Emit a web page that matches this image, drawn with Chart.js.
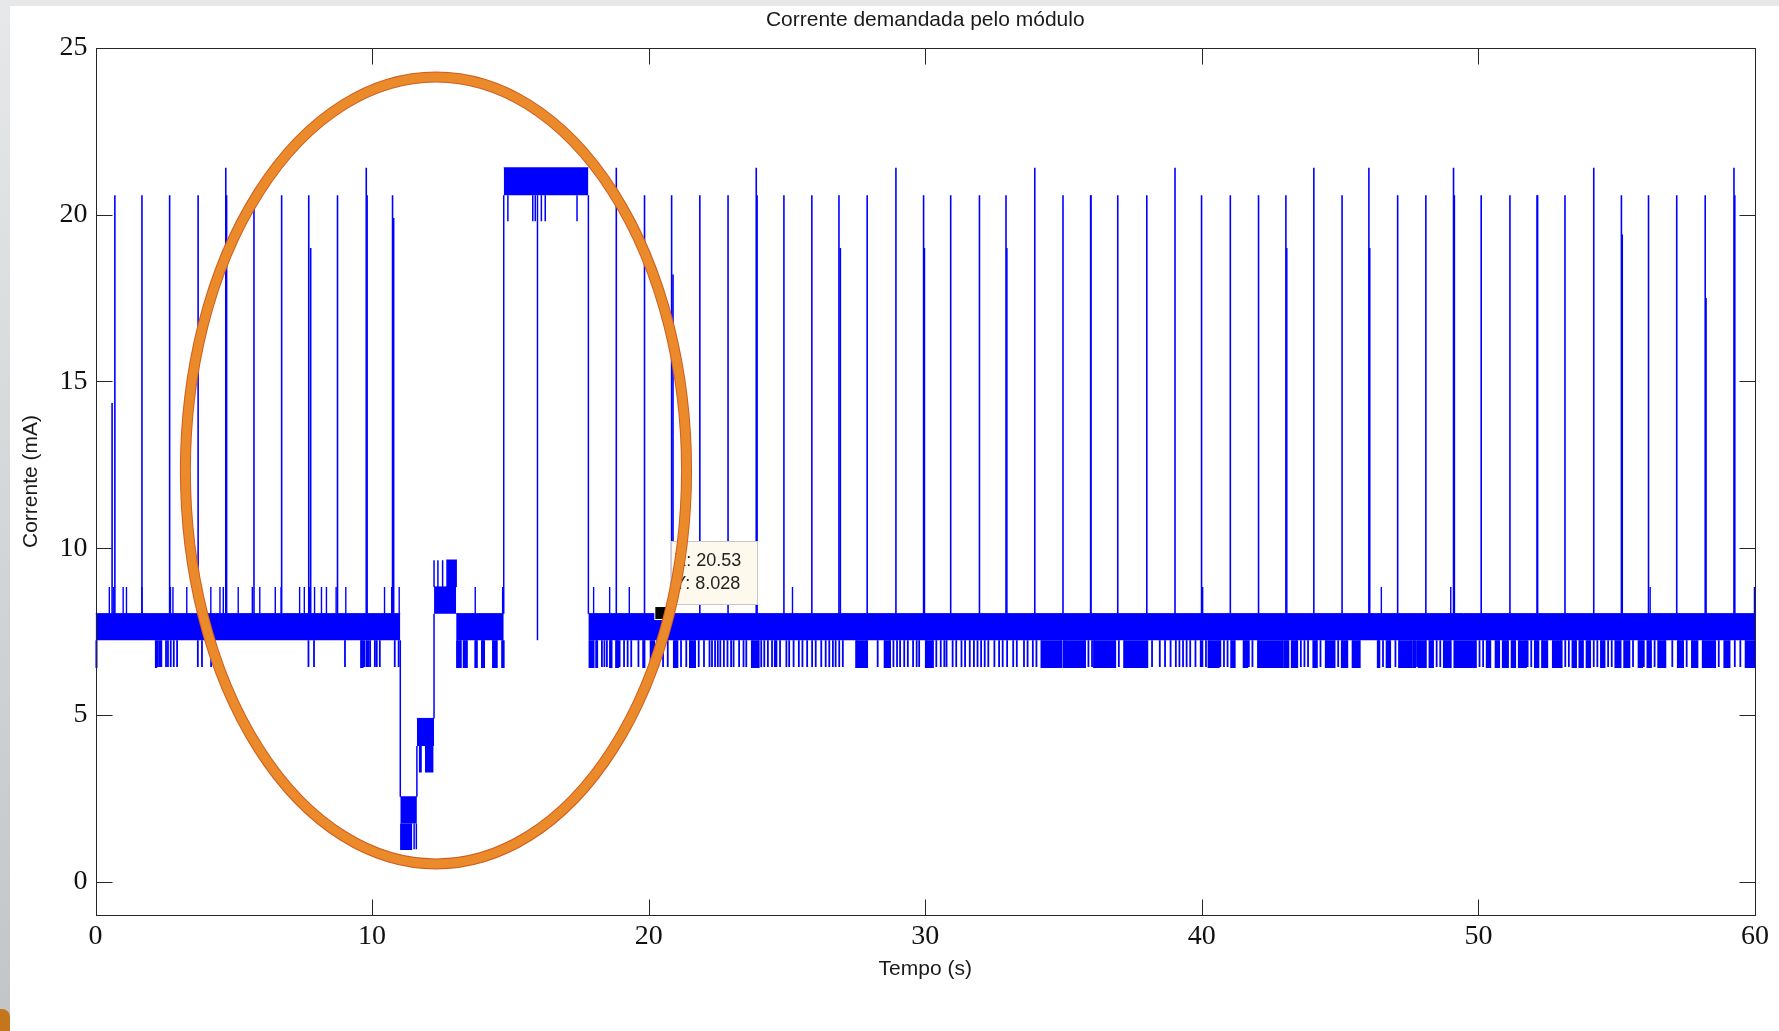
<!DOCTYPE html>
<html lang="pt">
<head>
    <meta charset="UTF-8">
    <title>Corrente demandada pelo módulo</title>
    <script src="https://cdn.jsdelivr.net/npm/chart.js"></script>
    <style>
        body {
            margin: 0;
            width: 1779px;
            height: 1031px;
            overflow: hidden;
            background: linear-gradient(to bottom, #e6e8e9, #c1c5c7); /* borda do slide */
        }
        .sheet {
            position: absolute;
            left: 10px;
            top: 6px;
            right: 0;
            bottom: 0;
            background: #ffffff;
        }
        .corner {
            position: absolute;
            left: 0;
            bottom: 0;
            width: 10px;
            height: 22px;
            background: #c4761d;
            border-top-right-radius: 8px;
        }
        #chart {
            position: absolute;
            left: 0;
            top: 0;
        }
    </style>
</head>
<body>
    <div class="sheet"></div>
    <div class="corner"></div>
    <canvas id="chart" width="1779" height="1031"></canvas>

    <script>
        const xTicks = [0, 10, 20, 30, 40, 50, 60];
        const yTicks = [0, 5, 10, 15, 20, 25];

        // faixa densa do sinal: [inicio s, fim s, minimo mA, maximo mA]
        const bandSegments = [
            [0, 11.02, 7.24, 8.04],
            [11.02, 11.62, 1.75, 2.55],
            [11.62, 12.24, 4.07, 4.9],
            [12.24, 13.04, 8.04, 8.84],
            [13.04, 14.76, 7.24, 8.04],
            [14.76, 17.82, 20.58, 21.4],
            [17.82, 60, 7.24, 8.04]
        ];

        // transicoes verticais: [t, de, ate]
        const transitions = [
            [11.02, 2.55, 7.24],
            [11.62, 2.55, 4.07],
            [12.24, 4.9, 8.04],
            [14.76, 8.04, 20.58],
            [15.98, 7.24, 20.58],
            [17.82, 8.04, 20.58]
        ];

        // quedas de 7.24 para 6.44 mA: [inicio, fim]
        const dipsMain = [
            [0, 0.04], [2.18, 2.2], [2.25, 2.25], [2.32, 2.32], [2.38, 2.38], [2.55, 2.55], [2.62, 2.62],
            [2.72, 2.72], [2.83, 2.83], [2.95, 2.95], [3.7, 3.7], [3.85, 3.85], [4.18, 4.18], [4.3, 4.3],
            [7.7, 7.7], [7.9, 7.9], [9.02, 9.02], [9.6, 9.66], [9.72, 9.72], [9.8, 9.8], [9.86, 9.86],
            [9.93, 9.93], [10.1, 10.1], [10.17, 10.17], [10.28, 10.28], [10.82, 10.82], [10.96, 10.96],
            [13.07, 13.21], [13.31, 13.43], [13.73, 13.79], [13.97, 14.05], [14.37, 14.51], [14.7, 14.76],
            [17.86, 18.01], [18.1, 18.14], [18.31, 18.31], [18.4, 18.4], [18.49, 18.49], [18.6, 18.66],
            [18.82, 18.9], [18.95, 18.95], [19.11, 19.11], [19.24, 19.24], [19.37, 19.37], [19.63, 19.63],
            [19.8, 19.85], [20.07, 20.2], [20.35, 20.35], [20.52, 20.52], [20.69, 20.69], [20.91, 21.04],
            [21.17, 21.17], [21.36, 21.36], [21.49, 21.68], [21.81, 21.81], [22.0, 22.0], [22.2, 22.2],
            [22.29, 22.29], [22.4, 22.4], [22.5, 22.5], [22.59, 22.59], [22.72, 22.72], [22.85, 22.85],
            [22.98, 22.98], [23.07, 23.07], [23.27, 23.27], [23.43, 23.43], [23.53, 23.53], [23.73, 23.98],
            [24.07, 24.07], [24.18, 24.18], [24.31, 24.31], [24.46, 24.46], [24.56, 24.56], [24.62, 24.62],
            [24.75, 24.75], [24.98, 24.98], [25.08, 25.08], [25.24, 25.24], [25.43, 25.43], [25.56, 25.56],
            [25.73, 25.73], [25.91, 25.91], [26.04, 26.04], [26.24, 26.24], [26.4, 26.4], [26.53, 26.53],
            [26.66, 26.66], [26.76, 26.76], [26.89, 26.89], [27.02, 27.02], [27.5, 27.9], [28.28, 28.28],
            [28.53, 28.73], [28.85, 28.85], [28.98, 28.98], [29.09, 29.09], [29.24, 29.24], [29.37, 29.37],
            [29.56, 29.56], [29.69, 29.69], [29.78, 29.78], [30.02, 30.28], [30.4, 30.4], [30.56, 30.56],
            [30.69, 30.69], [30.77, 30.77], [30.99, 30.99], [31.12, 31.12], [31.31, 31.31], [31.44, 31.44],
            [31.61, 31.61], [31.76, 31.76], [31.89, 31.89], [32.02, 32.02], [32.15, 32.15], [32.28, 32.28],
            [32.5, 32.5], [32.67, 32.67], [32.8, 32.8], [32.96, 32.96], [33.18, 33.18], [33.31, 33.31],
            [33.57, 33.57], [33.7, 33.7], [33.89, 33.89], [34.02, 34.02], [34.2, 34.92], [35.0, 35.78],
            [35.9, 35.9], [36.03, 36.03], [36.1, 36.87], [37.0, 37.0], [37.19, 38.03], [38.2, 38.2],
            [38.48, 38.48], [38.67, 38.67], [38.87, 38.87], [39.06, 39.06], [39.19, 39.19], [39.32, 39.32],
            [39.45, 39.45], [39.58, 39.58], [39.77, 39.77], [39.96, 39.96], [40.02, 40.02], [40.15, 40.15],
            [40.24, 40.61], [40.67, 40.67], [40.8, 40.8], [40.93, 40.93], [41.06, 41.19], [41.51, 41.64],
            [41.7, 41.7], [41.83, 41.83], [42.03, 42.93], [43.0, 43.13], [43.25, 43.45], [43.58, 43.58],
            [43.71, 43.71], [43.84, 43.84], [44.03, 44.16], [44.29, 44.29], [44.48, 44.8], [44.93, 44.93],
            [45.06, 45.26], [45.45, 45.71], [46.36, 46.42], [46.55, 46.55], [46.68, 46.81], [47.0, 47.0],
            [47.13, 47.58], [47.65, 47.71], [47.78, 47.78], [47.84, 48.1], [48.23, 48.36], [48.49, 48.49],
            [48.62, 48.62], [48.75, 49.0], [49.13, 49.91], [50.04, 50.04], [50.17, 50.17], [50.3, 50.43],
            [50.62, 50.75], [50.88, 51.07], [51.2, 51.33], [51.46, 51.72], [51.78, 51.78], [51.91, 51.91],
            [52.04, 52.17], [52.3, 52.49], [52.69, 52.88], [52.94, 53.01], [53.14, 53.14], [53.27, 53.27],
            [53.4, 53.53], [53.65, 53.78], [53.91, 54.04], [54.17, 54.17], [54.3, 54.3], [54.43, 54.56],
            [54.69, 54.69], [54.82, 54.82], [54.95, 55.14], [55.27, 55.46], [55.59, 55.59], [55.79, 55.92],
            [55.98, 55.98], [56.11, 56.24], [56.37, 56.37], [56.5, 56.76], [57.01, 57.01], [57.21, 57.4],
            [57.53, 57.53], [57.72, 57.92], [58.11, 58.56], [58.69, 58.69], [58.89, 59.08], [59.27, 59.27],
            [59.47, 59.47], [59.66, 59.99]
        ];
        const dipsLow = [[11.04, 11.42], [11.52, 11.52], [11.6, 11.6]];      // 1.75 -> 0.98 mA
        const dipsMid = [[11.72, 11.77], [11.94, 12.19]];                     // 4.07 -> 3.3 mA
        const dipsHigh = [[14.91, 14.91], [15.81, 15.81], [15.9, 15.9], [16.12, 16.12], [16.26, 16.26], [17.41, 17.41]]; // 20.58 -> 19.8 mA
        const upperBandPeaks = [[12.24, 12.24], [12.38, 12.38], [12.55, 12.55], [12.71, 13.04]]; // 8.84 -> 9.64 mA

        // picos a partir de 8.04 mA
        const smallSpikeTimes = [0.5, 0.66, 1.0, 1.12, 1.68, 2.71, 2.8, 3.3, 4.17, 4.5, 4.62, 5.16, 5.67, 5.94, 6.5,
            6.71, 7.38, 7.55, 7.74, 7.92, 8.17, 8.35, 8.7, 9.05, 10.45, 10.71, 10.98, 13.73, 14.72, 18.01,
            18.59, 19.3, 25.2, 40.03, 46.49, 49.0, 56.21, 59.98];                              // ate 8.84 mA
        const spikeTimes = [0.7, 1.68, 2.68, 3.71, 5.73, 6.73, 7.71, 8.75, 10.74, 19.85, 20.83, 21.85, 22.87,
            24.89, 25.9, 26.88, 27.9, 29.94, 30.92, 31.96, 32.92, 34.98, 35.98, 36.96, 38.01, 39.99, 41.03,
            42.05, 43.04, 45.07, 47.08, 48.1, 50.1, 51.14, 52.12, 53.13, 55.17, 56.15, 57.17, 58.2];   // ate 20.58 mA
        const tallSpikeTimes = [4.71, 9.79, 18.83, 23.89, 28.94, 33.96, 39.03, 44.05, 46.04, 49.1, 54.17, 59.24]; // ate 21.4 mA
        const partialSpikes = [[0.6, 14.35], [4.74, 20.58], [7.78, 19.0], [9.82, 20.58], [10.78, 19.9],
            [20.88, 18.2], [23.92, 20.58], [26.93, 19.0], [29.97, 19.0], [32.95, 19.0], [35.99, 20.58],
            [43.07, 19.0], [46.07, 19.0], [49.13, 20.58], [52.14, 20.58], [55.2, 19.4], [58.23, 17.5],
            [59.27, 20.58]];

        const dataTip = [20.53, 8.028];
        const highlight = [12.31, 12.33, 9.06, 11.79]; // centro x, centro y, raio x, raio y

        const blue = '#0000ff';
        const fontSans = "'Liberation Sans', Arial, sans-serif";
        const fontSerif = "'Liberation Serif', 'Times New Roman', serif";

        // retangulos (quedas / platos) separados por null
        function blocks(intervals, base, tip) {
            const pts = [];
            intervals.forEach(([a, b]) => {
                pts.push({x: a, y: base}, {x: a, y: tip}, {x: b, y: tip}, {x: b, y: base}, {x: b, y: null});
            });
            return pts;
        }

        // linhas verticais [t, y1, y2]
        function verticals(list) {
            const pts = [];
            list.forEach(([t, y1, y2]) => pts.push({x: t, y: y1}, {x: t, y: y2}, {x: t, y: null}));
            return pts;
        }

        function series(data, width, fill) {
            return {
                data: data,
                borderColor: blue,
                backgroundColor: blue,
                borderWidth: width,
                fill: fill,
                spanGaps: false,
                tension: 0,
                pointRadius: 0
            };
        }

        const datasets = [];
        bandSegments.forEach(([a, b, lo, hi]) => {
            datasets.push(series([{x: a, y: hi}, {x: b, y: hi}], 1, {value: lo}));
        });
        datasets.push(series(verticals(transitions), 1.5, false));
        datasets.push(series(blocks(dipsMain, 7.24, 6.44), 1.8, {value: 7.24}));
        datasets.push(series(blocks(dipsLow, 1.75, 0.98), 1.5, {value: 1.75}));
        datasets.push(series(blocks(dipsMid, 4.07, 3.3), 1.5, {value: 4.07}));
        datasets.push(series(blocks(dipsHigh, 20.58, 19.8), 1.5, {value: 20.58}));
        datasets.push(series(blocks(upperBandPeaks, 8.84, 9.64), 1.5, {value: 8.84}));
        datasets.push(series(verticals(smallSpikeTimes.map(t => [t, 8.04, 8.84])), 1.4, false));
        datasets.push(series(verticals(spikeTimes.map(t => [t, 8.04, 20.58])), 1.6, false));
        datasets.push(series(verticals(tallSpikeTimes.map(t => [t, 8.04, 21.4])), 1.6, false));
        datasets.push(series(verticals(partialSpikes.map(([t, h]) => [t, 8.04, h])), 1.6, false));

        // moldura estilo MATLAB com ticks para dentro
        const boxPlugin = {
            id: 'matlabBox',
            afterDatasetsDraw(chart) {
                const {ctx, chartArea: a, scales: {x, y}} = chart;
                const tl = 16;
                ctx.save();
                ctx.strokeStyle = '#262626';
                ctx.lineWidth = 1;
                const l = Math.round(a.left) + 0.5, r = Math.round(a.right) + 0.5;
                const t = Math.round(a.top) + 0.5, b = Math.round(a.bottom) + 0.5;
                ctx.strokeRect(l, t, r - l, b - t);
                ctx.beginPath();
                xTicks.forEach(v => {
                    const px = Math.round(x.getPixelForValue(v)) + 0.5;
                    ctx.moveTo(px, b); ctx.lineTo(px, b - tl);
                    ctx.moveTo(px, t); ctx.lineTo(px, t + tl);
                });
                yTicks.forEach(v => {
                    const py = Math.round(y.getPixelForValue(v)) + 0.5;
                    ctx.moveTo(l, py); ctx.lineTo(l + tl, py);
                    ctx.moveTo(r, py); ctx.lineTo(r - tl, py);
                });
                ctx.stroke();
                ctx.restore();
            }
        };

        // datatip e elipse de destaque
        const notePlugin = {
            id: 'notes',
            afterDraw(chart) {
                const {ctx, scales: {x, y}} = chart;
                const px = x.getPixelForValue(dataTip[0]);
                const py = y.getPixelForValue(dataTip[1]);
                ctx.save();
                ctx.fillStyle = '#fdf9ec';
                ctx.strokeStyle = '#c8c8c8';
                ctx.lineWidth = 1;
                ctx.fillRect(px + 8, py - 73, 86, 63);
                ctx.strokeRect(Math.round(px + 8) + 0.5, Math.round(py - 73) + 0.5, 86, 63);
                ctx.fillStyle = '#222';
                ctx.font = '18px ' + fontSans;
                ctx.textBaseline = 'middle';
                ctx.fillText('X: ' + dataTip[0], px + 11, py - 53);
                ctx.fillText('Y: ' + dataTip[1], px + 11, py - 30);
                ctx.fillStyle = '#ffffff';
                ctx.fillRect(px - 9, py - 8, 14, 14);
                ctx.fillStyle = '#000000';
                ctx.fillRect(px - 8, py - 7, 12, 12);

                const cx = x.getPixelForValue(highlight[0]);
                const cy = y.getPixelForValue(highlight[1]);
                const rx = x.getPixelForValue(highlight[0] + highlight[2]) - cx;
                const ry = cy - y.getPixelForValue(highlight[1] + highlight[3]);
                ctx.beginPath();
                ctx.ellipse(cx, cy, rx, ry, 0, 0, 2 * Math.PI);
                ctx.lineWidth = 11;
                ctx.strokeStyle = '#cf5e1f';
                ctx.stroke();
                ctx.lineWidth = 9;
                ctx.strokeStyle = '#ea8a2b';
                ctx.stroke();
                ctx.restore();
            }
        };

        const chart = new Chart(document.getElementById('chart'), {
            type: 'line',
            data: {datasets: datasets},
            options: {
                responsive: false,
                animation: false,
                events: [],
                layout: {padding: {left: 0, right: 24, top: 0, bottom: 0}},
                elements: {
                    line: {borderCapStyle: 'butt', borderJoinStyle: 'miter'}
                },
                scales: {
                    x: {
                        type: 'linear',
                        min: 0,
                        max: 60,
                        afterBuildTicks: s => { s.ticks = xTicks.map(v => ({value: v})); },
                        afterFit: s => { s.height = 115.7; },
                        grid: {display: false, drawTicks: false},
                        border: {display: false},
                        ticks: {
                            padding: 5,
                            maxRotation: 0,
                            autoSkip: false,
                            color: '#111',
                            font: {family: fontSerif, size: 28}
                        },
                        title: {
                            display: true,
                            text: 'Tempo (s)',
                            color: '#1a1a1a',
                            font: {family: fontSans, size: 21},
                            padding: {top: 0, bottom: 49}
                        }
                    },
                    y: {
                        type: 'linear',
                        min: -1,
                        max: 25,
                        afterBuildTicks: s => { s.ticks = yTicks.map(v => ({value: v})); },
                        afterFit: s => { s.width = 95.5; },
                        grid: {display: false, drawTicks: false},
                        border: {display: false},
                        ticks: {
                            padding: 8,
                            color: '#111',
                            font: {family: fontSerif, size: 28}
                        },
                        title: {
                            display: true,
                            text: 'Corrente (mA)',
                            color: '#1a1a1a',
                            font: {family: fontSans, size: 21},
                            padding: {top: 19, bottom: 0}
                        }
                    }
                },
                plugins: {
                    colors: {enabled: false},
                    legend: {display: false},
                    tooltip: {enabled: false},
                    title: {
                        display: true,
                        fullSize: false,
                        text: 'Corrente demandada pelo módulo',
                        color: '#1a1a1a',
                        font: {family: fontSans, size: 21, weight: 'normal'},
                        padding: {top: 8, bottom: 14.5}
                    }
                }
            },
            plugins: [boxPlugin, notePlugin]
        });
    </script>
</body>
</html>
